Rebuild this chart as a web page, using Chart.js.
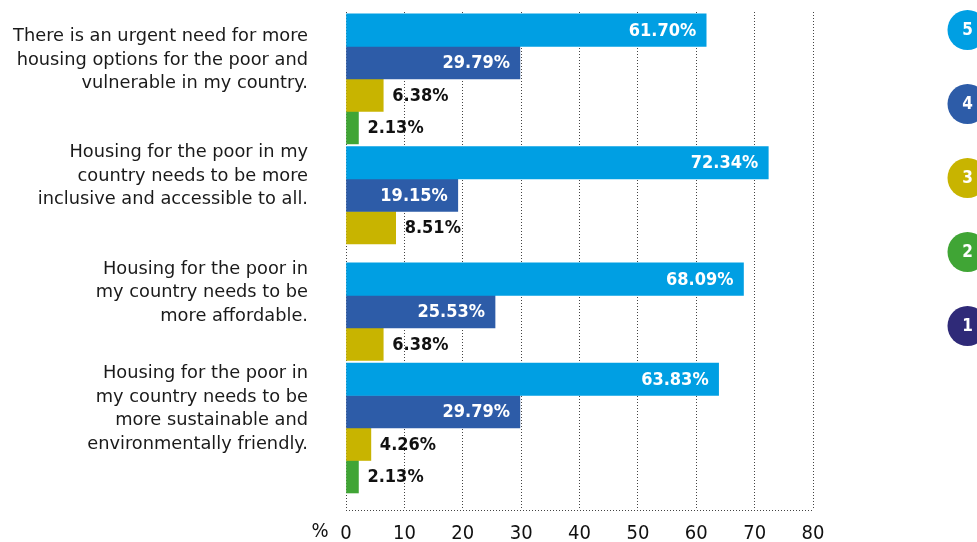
<!DOCTYPE html>
<html>
<head>
<meta charset="utf-8">
<title>Housing for the poor</title>
<script src="https://cdn.jsdelivr.net/npm/chart.js@4.4.1/dist/chart.umd.min.js"></script>
<style>
  html, body { margin: 0; padding: 0; background: #fff; }
  #wrap { position: relative; width: 977px; height: 542px; }
</style>
</head>
<body>
<div id="wrap"><canvas id="myChart"></canvas></div>
<script>
// statements (one row each), multi-line as shown on the axis
var statements = [
  ["There is an urgent need for more", "housing options for the poor and", "vulnerable in my country."],
  ["Housing for the poor in my", "country needs to be more", "inclusive and accessible to all."],
  ["Housing for the poor in", "my country needs to be", "more affordable."],
  ["Housing for the poor in", "my country needs to be", "more sustainable and", "environmentally friendly."]
];

// rating scale, 5 = strongly agree ... 1 = strongly disagree (% of answers)
var ratings = ["5", "4", "3", "2", "1"];
var rating5 = [61.70, 72.34, 68.09, 63.83];
var rating4 = [29.79, 19.15, 25.53, 29.79];
var rating3 = [6.38, 8.51, 6.38, 4.26];
var rating2 = [2.13, null, null, 2.13];
var rating1 = [null, null, null, null];

var xTicks = [0, 10, 20, 30, 40, 50, 60, 70, 80];

var colors = ["#009fe3", "#2d5ca8", "#c8b400", "#40a535", "#2f2a78"];
var FONT = '"DejaVu Sans Condensed", "DejaVu Sans", sans-serif';
var LABEL_FONT = '"DejaVu Sans", sans-serif';

var yMin = -0.575, yMax = 3.705;

function toPoints(arr) {
  return arr.map(function (v, i) { return { x: v, y: i }; });
}

var series = [rating5, rating4, rating3, rating2, rating1];
var datasets = series.map(function (s, k) {
  return {
    label: ratings[k],
    data: toPoints(s),
    backgroundColor: colors[k],
    borderWidth: 0,
    barThickness: 32.5,
    skipNull: true
  };
});

// value labels: inside (white) for long bars, outside (black) for short ones
var valueLabels = {
  id: "valueLabels",
  afterDatasetsDraw: function (chart) {
    var ctx = chart.ctx;
    ctx.save();
    ctx.font = "bold 18px " + FONT;
    ctx.textBaseline = "middle";
    chart.data.datasets.forEach(function (ds, di) {
      var meta = chart.getDatasetMeta(di);
      meta.data.forEach(function (bar, i) {
        var v = ds.data[i].x;
        if (v === null || v === undefined) return;
        var txt = v.toFixed(2) + "%";
        if (v > 15) {
          ctx.fillStyle = "#ffffff";
          ctx.textAlign = "right";
          ctx.fillText(txt, bar.x - 10, bar.y + 1);
        } else {
          ctx.fillStyle = "#111111";
          ctx.textAlign = "left";
          ctx.fillText(txt, bar.x + 9, bar.y + 1);
        }
      });
    });
    ctx.restore();
  }
};

// numbered circle legend on the right, plus the "%" unit before the x ticks
var sideLegend = {
  id: "sideLegend",
  afterDraw: function (chart) {
    var ctx = chart.ctx;
    ctx.save();
    chart.data.datasets.forEach(function (ds, i) {
      var cx = 967.5, cy = 30 + i * 74;
      ctx.beginPath();
      ctx.arc(cx, cy, 20, 0, Math.PI * 2);
      ctx.fillStyle = ds.backgroundColor;
      ctx.fill();
      ctx.fillStyle = "#ffffff";
      ctx.font = "bold 17px " + FONT;
      ctx.textAlign = "center";
      ctx.textBaseline = "middle";
      ctx.fillText(ds.label, cx, cy + 1);
    });
    var xs = chart.scales.x;
    ctx.fillStyle = "#111111";
    ctx.font = "20px " + FONT;
    ctx.textAlign = "center";
    ctx.textBaseline = "middle";
    ctx.fillText("%", xs.getPixelForValue(0) - 26, xs.top + 22);
    ctx.restore();
  }
};

var ctx = document.getElementById("myChart").getContext("2d");
var chart = new Chart(ctx, {
  type: "bar",
  data: { datasets: datasets },
  plugins: [valueLabels, sideLegend],
  options: {
    indexAxis: "y",
    responsive: true,
    maintainAspectRatio: false,
    animation: false,
    layout: { padding: { top: 12, right: 164, left: 0, bottom: 0 } },
    plugins: {
      legend: { display: false },
      tooltip: { enabled: false }
    },
    scales: {
      x: {
        type: "linear",
        min: 0,
        max: 80,
        afterBuildTicks: function (scale) {
          scale.ticks = xTicks.map(function (v) { return { value: v }; });
        },
        afterFit: function (scale) {
          scale.height = 32;
          scale.paddingLeft = 0;
          scale.paddingRight = 0;
        },
        grid: { color: "#444444", lineWidth: 1, drawTicks: false },
        border: { display: false, dash: [1, 2] },
        ticks: {
          color: "#111111",
          padding: 12,
          font: { family: FONT, size: 20 }
        }
      },
      y: {
        type: "linear",
        reverse: true,
        offset: false,
        min: yMin,
        max: yMax,
        afterBuildTicks: function (scale) {
          var t = statements.map(function (s, i) { return { value: i }; });
          t.push({ value: yMax });
          scale.ticks = t;
        },
        afterFit: function (scale) {
          scale.width = 346;
          scale.paddingTop = 0;
          scale.paddingBottom = 0;
        },
        grid: {
          offset: false,
          drawTicks: false,
          lineWidth: 1,
          color: function (c) {
            return c.tick && c.tick.value === yMax ? "#444444" : "rgba(0,0,0,0)";
          }
        },
        border: { display: false, dash: [1, 2] },
        ticks: {
          autoSkip: false,
          padding: 38,
          labelOffset: -19,
          color: "#1a1a1a",
          font: { family: LABEL_FONT, size: 17.8, lineHeight: 1.32 },
          callback: function (v) { return statements[v] || ""; }
        }
      }
    }
  }
});
</script>
</body>
</html>
